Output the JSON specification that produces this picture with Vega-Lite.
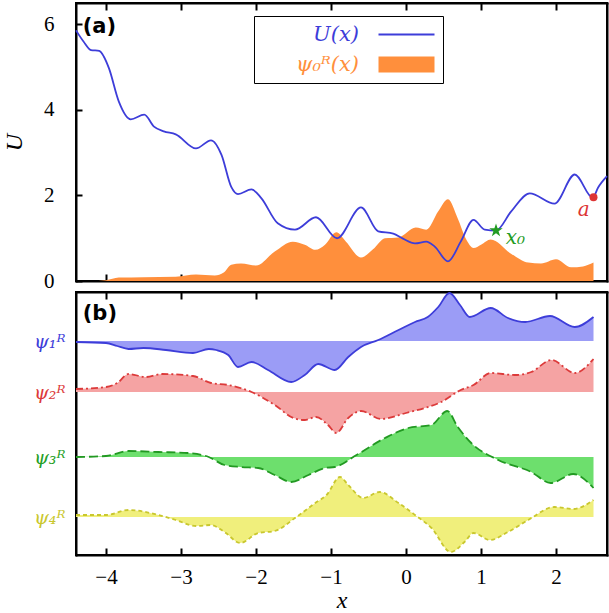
{
  "$schema": "https://vega.github.io/schema/vega-lite/v6.json",
  "padding": {"left": 1, "top": 1, "right": 0, "bottom": 6},
  "background": "white",
  "spacing": -11,
  "config": {
    "view": {"stroke": "black", "strokeWidth": 2},
    "axis": {"domain": true, "domainColor": "black", "domainWidth": 2, "domainCap": "square", "grid": false, "tickColor": "black", "tickWidth": 2, "tickSize": -6,
      "labelFont": "Liberation Serif", "labelFontSize": 21, "labelColor": "black",
      "titleFont": "Liberation Serif", "titleFontStyle": "italic", "titleFontWeight": "normal", "titleFontSize": 24, "titleColor": "black"}
  },
  "resolve": {"scale": {"color": "independent"}},
  "datasets": {
    "U": [
      {"x": -4.4, "U": 5.86}, {"x": -4.3, "U": 5.6}, {"x": -4.2, "U": 5.4}, {"x": -4.09, "U": 5.38}, {"x": -4.03, "U": 5.25},
      {"x": -3.96, "U": 4.97}, {"x": -3.83, "U": 4.2}, {"x": -3.67, "U": 3.78}, {"x": -3.49, "U": 3.89}, {"x": -3.36, "U": 3.61},
      {"x": -3.23, "U": 3.5}, {"x": -3.07, "U": 3.43}, {"x": -2.8, "U": 3.1}, {"x": -2.6, "U": 3.29}, {"x": -2.46, "U": 2.95},
      {"x": -2.33, "U": 2.2}, {"x": -2.24, "U": 2.03}, {"x": -2.06, "U": 2.14}, {"x": -1.93, "U": 1.94}, {"x": -1.71, "U": 1.35},
      {"x": -1.48, "U": 1.2}, {"x": -1.2, "U": 1.49}, {"x": -0.92, "U": 1.0}, {"x": -0.6, "U": 1.72}, {"x": -0.37, "U": 1.16},
      {"x": -0.17, "U": 1.11}, {"x": -0.04, "U": 0.99}, {"x": 0.12, "U": 0.88}, {"x": 0.27, "U": 0.92}, {"x": 0.38, "U": 0.81},
      {"x": 0.56, "U": 0.46}, {"x": 0.73, "U": 0.92}, {"x": 0.9, "U": 1.43}, {"x": 1.05, "U": 1.2}, {"x": 1.2, "U": 1.18},
      {"x": 1.4, "U": 1.62}, {"x": 1.65, "U": 2.05}, {"x": 1.98, "U": 1.81}, {"x": 2.25, "U": 2.49}, {"x": 2.49, "U": 1.95},
      {"x": 2.56, "U": 2.18}, {"x": 2.68, "U": 2.45}
    ],
    "psi0": [
      {"x": -4.4, "p": 0.0}, {"x": -4.2, "p": 0.0}, {"x": -4.0, "p": 0.02}, {"x": -3.83, "p": 0.08}, {"x": -3.5, "p": 0.09},
      {"x": -3.07, "p": 0.1}, {"x": -2.8, "p": 0.15}, {"x": -2.55, "p": 0.13}, {"x": -2.43, "p": 0.2}, {"x": -2.33, "p": 0.38},
      {"x": -2.2, "p": 0.41}, {"x": -2.0, "p": 0.36}, {"x": -1.75, "p": 0.69}, {"x": -1.51, "p": 0.92}, {"x": -1.35, "p": 0.85},
      {"x": -1.21, "p": 0.73}, {"x": -1.08, "p": 0.85}, {"x": -0.93, "p": 1.14}, {"x": -0.8, "p": 0.92}, {"x": -0.6, "p": 0.55},
      {"x": -0.44, "p": 0.74}, {"x": -0.28, "p": 1.0}, {"x": -0.1, "p": 1.02}, {"x": 0.13, "p": 1.25}, {"x": 0.27, "p": 1.2},
      {"x": 0.43, "p": 1.63}, {"x": 0.56, "p": 1.91}, {"x": 0.69, "p": 1.46}, {"x": 0.8, "p": 0.98}, {"x": 0.9, "p": 0.77},
      {"x": 1.0, "p": 0.85}, {"x": 1.13, "p": 0.97}, {"x": 1.4, "p": 0.64}, {"x": 1.63, "p": 0.43}, {"x": 1.8, "p": 0.41},
      {"x": 2.0, "p": 0.51}, {"x": 2.2, "p": 0.32}, {"x": 2.36, "p": 0.34}, {"x": 2.5, "p": 0.43}
    ],
    "psi": [
      {"s": 1, "x": -4.4, "v": 213}, {"s": 1, "x": -4.0, "v": 212}, {"s": 1, "x": -3.85, "v": 209}, {"s": 1, "x": -3.7, "v": 206},
      {"s": 1, "x": -3.5, "v": 207}, {"s": 1, "x": -3.2, "v": 205}, {"s": 1, "x": -2.84, "v": 202}, {"s": 1, "x": -2.63, "v": 206},
      {"s": 1, "x": -2.53, "v": 205}, {"s": 1, "x": -2.37, "v": 200}, {"s": 1, "x": -2.24, "v": 188}, {"s": 1, "x": -2.06, "v": 193},
      {"s": 1, "x": -1.84, "v": 185}, {"s": 1, "x": -1.53, "v": 173}, {"s": 1, "x": -1.35, "v": 180}, {"s": 1, "x": -1.17, "v": 191},
      {"s": 1, "x": -0.95, "v": 185}, {"s": 1, "x": -0.77, "v": 198}, {"s": 1, "x": -0.6, "v": 208}, {"s": 1, "x": -0.37, "v": 215},
      {"s": 1, "x": -0.1, "v": 225}, {"s": 1, "x": 0.12, "v": 233}, {"s": 1, "x": 0.29, "v": 238}, {"s": 1, "x": 0.43, "v": 248},
      {"s": 1, "x": 0.58, "v": 262}, {"s": 1, "x": 0.72, "v": 250}, {"s": 1, "x": 0.85, "v": 238}, {"s": 1, "x": 1.13, "v": 247},
      {"s": 1, "x": 1.36, "v": 237}, {"s": 1, "x": 1.59, "v": 233}, {"s": 1, "x": 1.92, "v": 239}, {"s": 1, "x": 2.25, "v": 228},
      {"s": 1, "x": 2.5, "v": 238},
      {"s": 2, "x": -4.4, "v": 166}, {"s": 2, "x": -4.0, "v": 168}, {"s": 2, "x": -3.85, "v": 172}, {"s": 2, "x": -3.7, "v": 181},
      {"s": 2, "x": -3.47, "v": 178}, {"s": 2, "x": -3.25, "v": 181}, {"s": 2, "x": -2.84, "v": 179}, {"s": 2, "x": -2.6, "v": 172},
      {"s": 2, "x": -2.37, "v": 170}, {"s": 2, "x": -2.06, "v": 163}, {"s": 2, "x": -1.75, "v": 150}, {"s": 2, "x": -1.5, "v": 137},
      {"s": 2, "x": -1.35, "v": 135}, {"s": 2, "x": -1.2, "v": 138}, {"s": 2, "x": -1.04, "v": 130}, {"s": 2, "x": -0.93, "v": 122},
      {"s": 2, "x": -0.77, "v": 137}, {"s": 2, "x": -0.6, "v": 144}, {"s": 2, "x": -0.33, "v": 136}, {"s": 2, "x": 0.0, "v": 142},
      {"s": 2, "x": 0.25, "v": 147}, {"s": 2, "x": 0.47, "v": 153}, {"s": 2, "x": 0.73, "v": 165}, {"s": 2, "x": 0.9, "v": 170},
      {"s": 2, "x": 1.13, "v": 182}, {"s": 2, "x": 1.45, "v": 180}, {"s": 2, "x": 1.67, "v": 183}, {"s": 2, "x": 1.94, "v": 195},
      {"s": 2, "x": 2.25, "v": 182}, {"s": 2, "x": 2.5, "v": 196},
      {"s": 3, "x": -4.4, "v": 98}, {"s": 3, "x": -4.0, "v": 99}, {"s": 3, "x": -3.7, "v": 104}, {"s": 3, "x": -3.3, "v": 103},
      {"s": 3, "x": -2.9, "v": 102}, {"s": 3, "x": -2.63, "v": 98}, {"s": 3, "x": -2.42, "v": 90}, {"s": 3, "x": -2.2, "v": 88},
      {"s": 3, "x": -1.97, "v": 87}, {"s": 3, "x": -1.75, "v": 80}, {"s": 3, "x": -1.53, "v": 73}, {"s": 3, "x": -1.3, "v": 80},
      {"s": 3, "x": -1.08, "v": 87}, {"s": 3, "x": -0.95, "v": 88}, {"s": 3, "x": -0.66, "v": 100}, {"s": 3, "x": -0.28, "v": 117},
      {"s": 3, "x": 0.03, "v": 127}, {"s": 3, "x": 0.34, "v": 130}, {"s": 3, "x": 0.55, "v": 144}, {"s": 3, "x": 0.69, "v": 128},
      {"s": 3, "x": 0.87, "v": 112}, {"s": 3, "x": 1.23, "v": 95}, {"s": 3, "x": 1.67, "v": 83}, {"s": 3, "x": 1.93, "v": 72},
      {"s": 3, "x": 2.23, "v": 81}, {"s": 3, "x": 2.5, "v": 67},
      {"s": 4, "x": -4.4, "v": 40}, {"s": 4, "x": -4.0, "v": 40}, {"s": 4, "x": -3.7, "v": 45}, {"s": 4, "x": -3.3, "v": 40},
      {"s": 4, "x": -3.07, "v": 35}, {"s": 4, "x": -2.8, "v": 29}, {"s": 4, "x": -2.6, "v": 30}, {"s": 4, "x": -2.42, "v": 23},
      {"s": 4, "x": -2.21, "v": 12}, {"s": 4, "x": -1.97, "v": 22}, {"s": 4, "x": -1.75, "v": 24}, {"s": 4, "x": -1.48, "v": 37},
      {"s": 4, "x": -1.21, "v": 52}, {"s": 4, "x": -1.06, "v": 60}, {"s": 4, "x": -0.88, "v": 78}, {"s": 4, "x": -0.77, "v": 70},
      {"s": 4, "x": -0.57, "v": 57}, {"s": 4, "x": -0.35, "v": 63}, {"s": 4, "x": -0.1, "v": 52}, {"s": 4, "x": 0.12, "v": 40},
      {"s": 4, "x": 0.34, "v": 27}, {"s": 4, "x": 0.6, "v": 3}, {"s": 4, "x": 0.78, "v": 13}, {"s": 4, "x": 0.9, "v": 22},
      {"s": 4, "x": 1.12, "v": 15}, {"s": 4, "x": 1.36, "v": 23}, {"s": 4, "x": 1.63, "v": 35}, {"s": 4, "x": 1.98, "v": 48},
      {"s": 4, "x": 2.23, "v": 46}, {"s": 4, "x": 2.5, "v": 55}
    ]
  },
  "vconcat": [
    {
      "width": 531,
      "height": 278,
      "view": {"stroke": "black", "strokeWidth": 2},
      "resolve": {"axis": {"x": "independent", "y": "independent"}},
      "layer": [
        {
          "data": {"name": "psi0"},
          "mark": {"type": "area", "interpolate": "monotone", "opacity": 1},
          "encoding": {
            "x": {"field": "x", "type": "quantitative", "scale": {"domain": [-4.4, 2.68], "nice": false, "zero": false},
              "axis": {"orient": "bottom", "values": [-4, -3, -2, -1, 0, 1, 2], "labels": false, "title": null, "tickSize": -7}},
            "y": {"field": "p", "type": "quantitative", "scale": {"domain": [0, 6.5], "nice": false},
              "axis": {"values": [0, 2, 4, 6], "title": "U", "labelPadding": 28, "titlePadding": 17}},
            "color": {"datum": "ψ₀ᴿ(x)", "type": "nominal",
              "scale": {"domain": ["U(x)", "ψ₀ᴿ(x)"], "range": ["#3d3dd9", "#ff8f3c"]},
              "legend": {
                "orient": "none", "legendX": 178, "legendY": 13, "title": null, "padding": 8,
                "fillColor": "white", "strokeColor": "black",
                "labelFont": "DejaVu Serif", "labelFontStyle": "italic", "labelFontSize": 21,
                "labelColor": {"expr": "datum.value == 'U(x)' ? '#3d3dd9' : '#ff8f3c'"},
                "labelAlign": "right", "labelOffset": -58,
                "symbolType": {"expr": "datum.value == 'U(x)' ? 'M-5.6,-0.19H5.6V0.19H-5.6Z' : 'M-5.6,-1.6H5.6V1.6H-5.6Z'"},
                "symbolSize": 100, "symbolOffset": 134, "symbolStrokeWidth": 0, "symbolOpacity": 1,
                "rowPadding": 8
              }}
          }
        },
        {
          "data": {"name": "U"},
          "mark": {"type": "line", "interpolate": "monotone", "strokeWidth": 1.8},
          "encoding": {
            "x": {"field": "x", "type": "quantitative", "axis": null},
            "y": {"field": "U", "type": "quantitative", "axis": null},
            "color": {"datum": "U(x)", "type": "nominal", "legend": null}
          }
        },
        {
          "mark": {"type": "rule", "color": "black", "strokeWidth": 2, "strokeDash": [3, 3]},
          "encoding": {
            "x": {"datum": 2.5, "type": "quantitative",
              "axis": {"orient": "top", "values": [-4, -3, -2, -1, 0, 1, 2], "labels": false, "title": null, "tickSize": -7}}
          }
        },
        {
          "data": {"values": [{"x": 1.2, "U": 1.18}]},
          "mark": {"type": "point", "filled": true, "opacity": 1, "color": "#239b23",
            "shape": "M0,-1L0.2245,-0.309L0.951,-0.309L0.363,0.118L0.588,0.809L0,0.382L-0.588,0.809L-0.363,0.118L-0.951,-0.309L-0.2245,-0.309Z", "size": 200},
          "encoding": {"x": {"field": "x", "type": "quantitative", "axis": null}, "y": {"field": "U", "type": "quantitative", "axis": null}}
        },
        {
          "data": {"values": [{"x": 2.5, "U": 1.96}]},
          "mark": {"type": "point", "filled": true, "opacity": 1, "color": "#dd3434", "shape": "circle", "size": 64},
          "encoding": {"x": {"field": "x", "type": "quantitative", "axis": null},
            "y": {"field": "U", "type": "quantitative", "axis": {"orient": "right", "labels": false, "ticks": false, "title": null}}}
        },
        {
          "data": {"values": [{"x": 2.37, "U": 1.67, "t": "a"}]},
          "mark": {"type": "text", "font": "DejaVu Serif", "fontStyle": "italic", "fontSize": 20, "color": "#dd3434", "align": "center", "baseline": "middle"},
          "encoding": {"x": {"field": "x", "type": "quantitative", "axis": null}, "y": {"field": "U", "type": "quantitative", "axis": null}, "text": {"field": "t"}}
        },
        {
          "data": {"values": [{"x": 1.33, "U": 1.0, "t": "x₀"}]},
          "mark": {"type": "text", "font": "DejaVu Serif", "fontStyle": "italic", "fontSize": 20, "color": "#239b23", "align": "left", "baseline": "middle"},
          "encoding": {"x": {"field": "x", "type": "quantitative", "axis": null}, "y": {"field": "U", "type": "quantitative", "axis": null}, "text": {"field": "t"}}
        },
        {
          "data": {"values": [{"x": -4.31, "U": 5.93, "t": "(a)"}]},
          "mark": {"type": "text", "font": "DejaVu Sans", "fontWeight": "bold", "fontSize": 21, "color": "black", "align": "left", "baseline": "middle"},
          "encoding": {"x": {"field": "x", "type": "quantitative", "axis": null}, "y": {"field": "U", "type": "quantitative", "axis": null}, "text": {"field": "t"}}
        }
      ]
    },
    {
      "width": 531,
      "height": 263,
      "view": {"stroke": "black", "strokeWidth": 2},
      "resolve": {"axis": {"x": "independent", "y": "independent"}},
      "layer": [
        {
          "data": {"name": "psi"},
          "transform": [{"filter": "datum.s == 1"}],
          "mark": {"type": "area", "interpolate": "monotone", "color": "#9b9cf6", "opacity": 1},
          "encoding": {
            "x": {"field": "x", "type": "quantitative", "scale": {"domain": [-4.4, 2.68], "nice": false, "zero": false},
              "axis": {"orient": "bottom", "values": [-4, -3, -2, -1, 0, 1, 2], "title": "x", "tickSize": -7, "labelPadding": 18, "titlePadding": 1}},
            "y": {"field": "v", "type": "quantitative", "scale": {"domain": [0, 263], "nice": false},
              "axis": {"values": [38, 98, 163, 214], "ticks": false, "title": null, "labelPadding": 11,
                "labelFont": "DejaVu Serif", "labelFontStyle": "italic", "labelFontSize": 19,
                "labelExpr": "datum.value == 214 ? 'ψ₁ᴿ' : datum.value == 163 ? 'ψ₂ᴿ' : datum.value == 98 ? 'ψ₃ᴿ' : 'ψ₄ᴿ'",
                "labelColor": {"expr": "datum.value == 214 ? '#3d3dd9' : datum.value == 163 ? '#dc3a3a' : datum.value == 98 ? '#26a026' : '#c9c72e'"}}},
            "y2": {"datum": 214}
          }
        },
        {
          "data": {"name": "psi"},
          "transform": [{"filter": "datum.s == 1"}],
          "mark": {"type": "line", "interpolate": "monotone", "color": "#3d3dd9", "strokeWidth": 1.8},
          "encoding": {"x": {"field": "x", "type": "quantitative", "axis": null}, "y": {"field": "v", "type": "quantitative", "axis": null}}
        },
        {
          "data": {"name": "psi"},
          "transform": [{"filter": "datum.s == 2"}],
          "mark": {"type": "area", "interpolate": "monotone", "color": "#f5a3a3", "opacity": 1},
          "encoding": {"x": {"field": "x", "type": "quantitative", "axis": null}, "y": {"field": "v", "type": "quantitative", "axis": null}, "y2": {"datum": 163}}
        },
        {
          "data": {"name": "psi"},
          "transform": [{"filter": "datum.s == 2"}],
          "mark": {"type": "line", "interpolate": "monotone", "color": "#dc3a3a", "strokeWidth": 1.8, "strokeDash": [7, 3, 2, 3]},
          "encoding": {"x": {"field": "x", "type": "quantitative", "axis": null}, "y": {"field": "v", "type": "quantitative", "axis": null}}
        },
        {
          "data": {"name": "psi"},
          "transform": [{"filter": "datum.s == 3"}],
          "mark": {"type": "area", "interpolate": "monotone", "color": "#6ddf6d", "opacity": 1},
          "encoding": {"x": {"field": "x", "type": "quantitative", "axis": null}, "y": {"field": "v", "type": "quantitative", "axis": null}, "y2": {"datum": 98}}
        },
        {
          "data": {"name": "psi"},
          "transform": [{"filter": "datum.s == 3"}],
          "mark": {"type": "line", "interpolate": "monotone", "color": "#229922", "strokeWidth": 1.8, "strokeDash": [9, 4]},
          "encoding": {"x": {"field": "x", "type": "quantitative", "axis": null}, "y": {"field": "v", "type": "quantitative", "axis": null}}
        },
        {
          "data": {"name": "psi"},
          "transform": [{"filter": "datum.s == 4"}],
          "mark": {"type": "area", "interpolate": "monotone", "color": "#f0ef7c", "opacity": 1},
          "encoding": {"x": {"field": "x", "type": "quantitative", "axis": null}, "y": {"field": "v", "type": "quantitative", "axis": null}, "y2": {"datum": 38}}
        },
        {
          "data": {"name": "psi"},
          "transform": [{"filter": "datum.s == 4"}],
          "mark": {"type": "line", "interpolate": "monotone", "color": "#c9c72e", "strokeWidth": 1.8, "strokeDash": [4, 3]},
          "encoding": {"x": {"field": "x", "type": "quantitative", "axis": null}, "y": {"field": "v", "type": "quantitative", "axis": null}}
        },
        {
          "mark": {"type": "rule", "color": "black", "strokeWidth": 2, "strokeDash": [3, 3]},
          "encoding": {
            "x": {"datum": 2.5, "type": "quantitative",
              "axis": {"orient": "top", "values": [-4, -3, -2, -1, 0, 1, 2], "labels": false, "title": null, "tickSize": -7}}
          }
        },
        {
          "data": {"values": [{"x": -4.31, "v": 241, "t": "(b)"}]},
          "mark": {"type": "text", "font": "DejaVu Sans", "fontWeight": "bold", "fontSize": 21, "color": "black", "align": "left", "baseline": "middle"},
          "encoding": {"x": {"field": "x", "type": "quantitative", "axis": null},
            "y": {"field": "v", "type": "quantitative", "axis": {"orient": "right", "labels": false, "ticks": false, "title": null}},
            "text": {"field": "t"}}
        }
      ]
    }
  ]
}
